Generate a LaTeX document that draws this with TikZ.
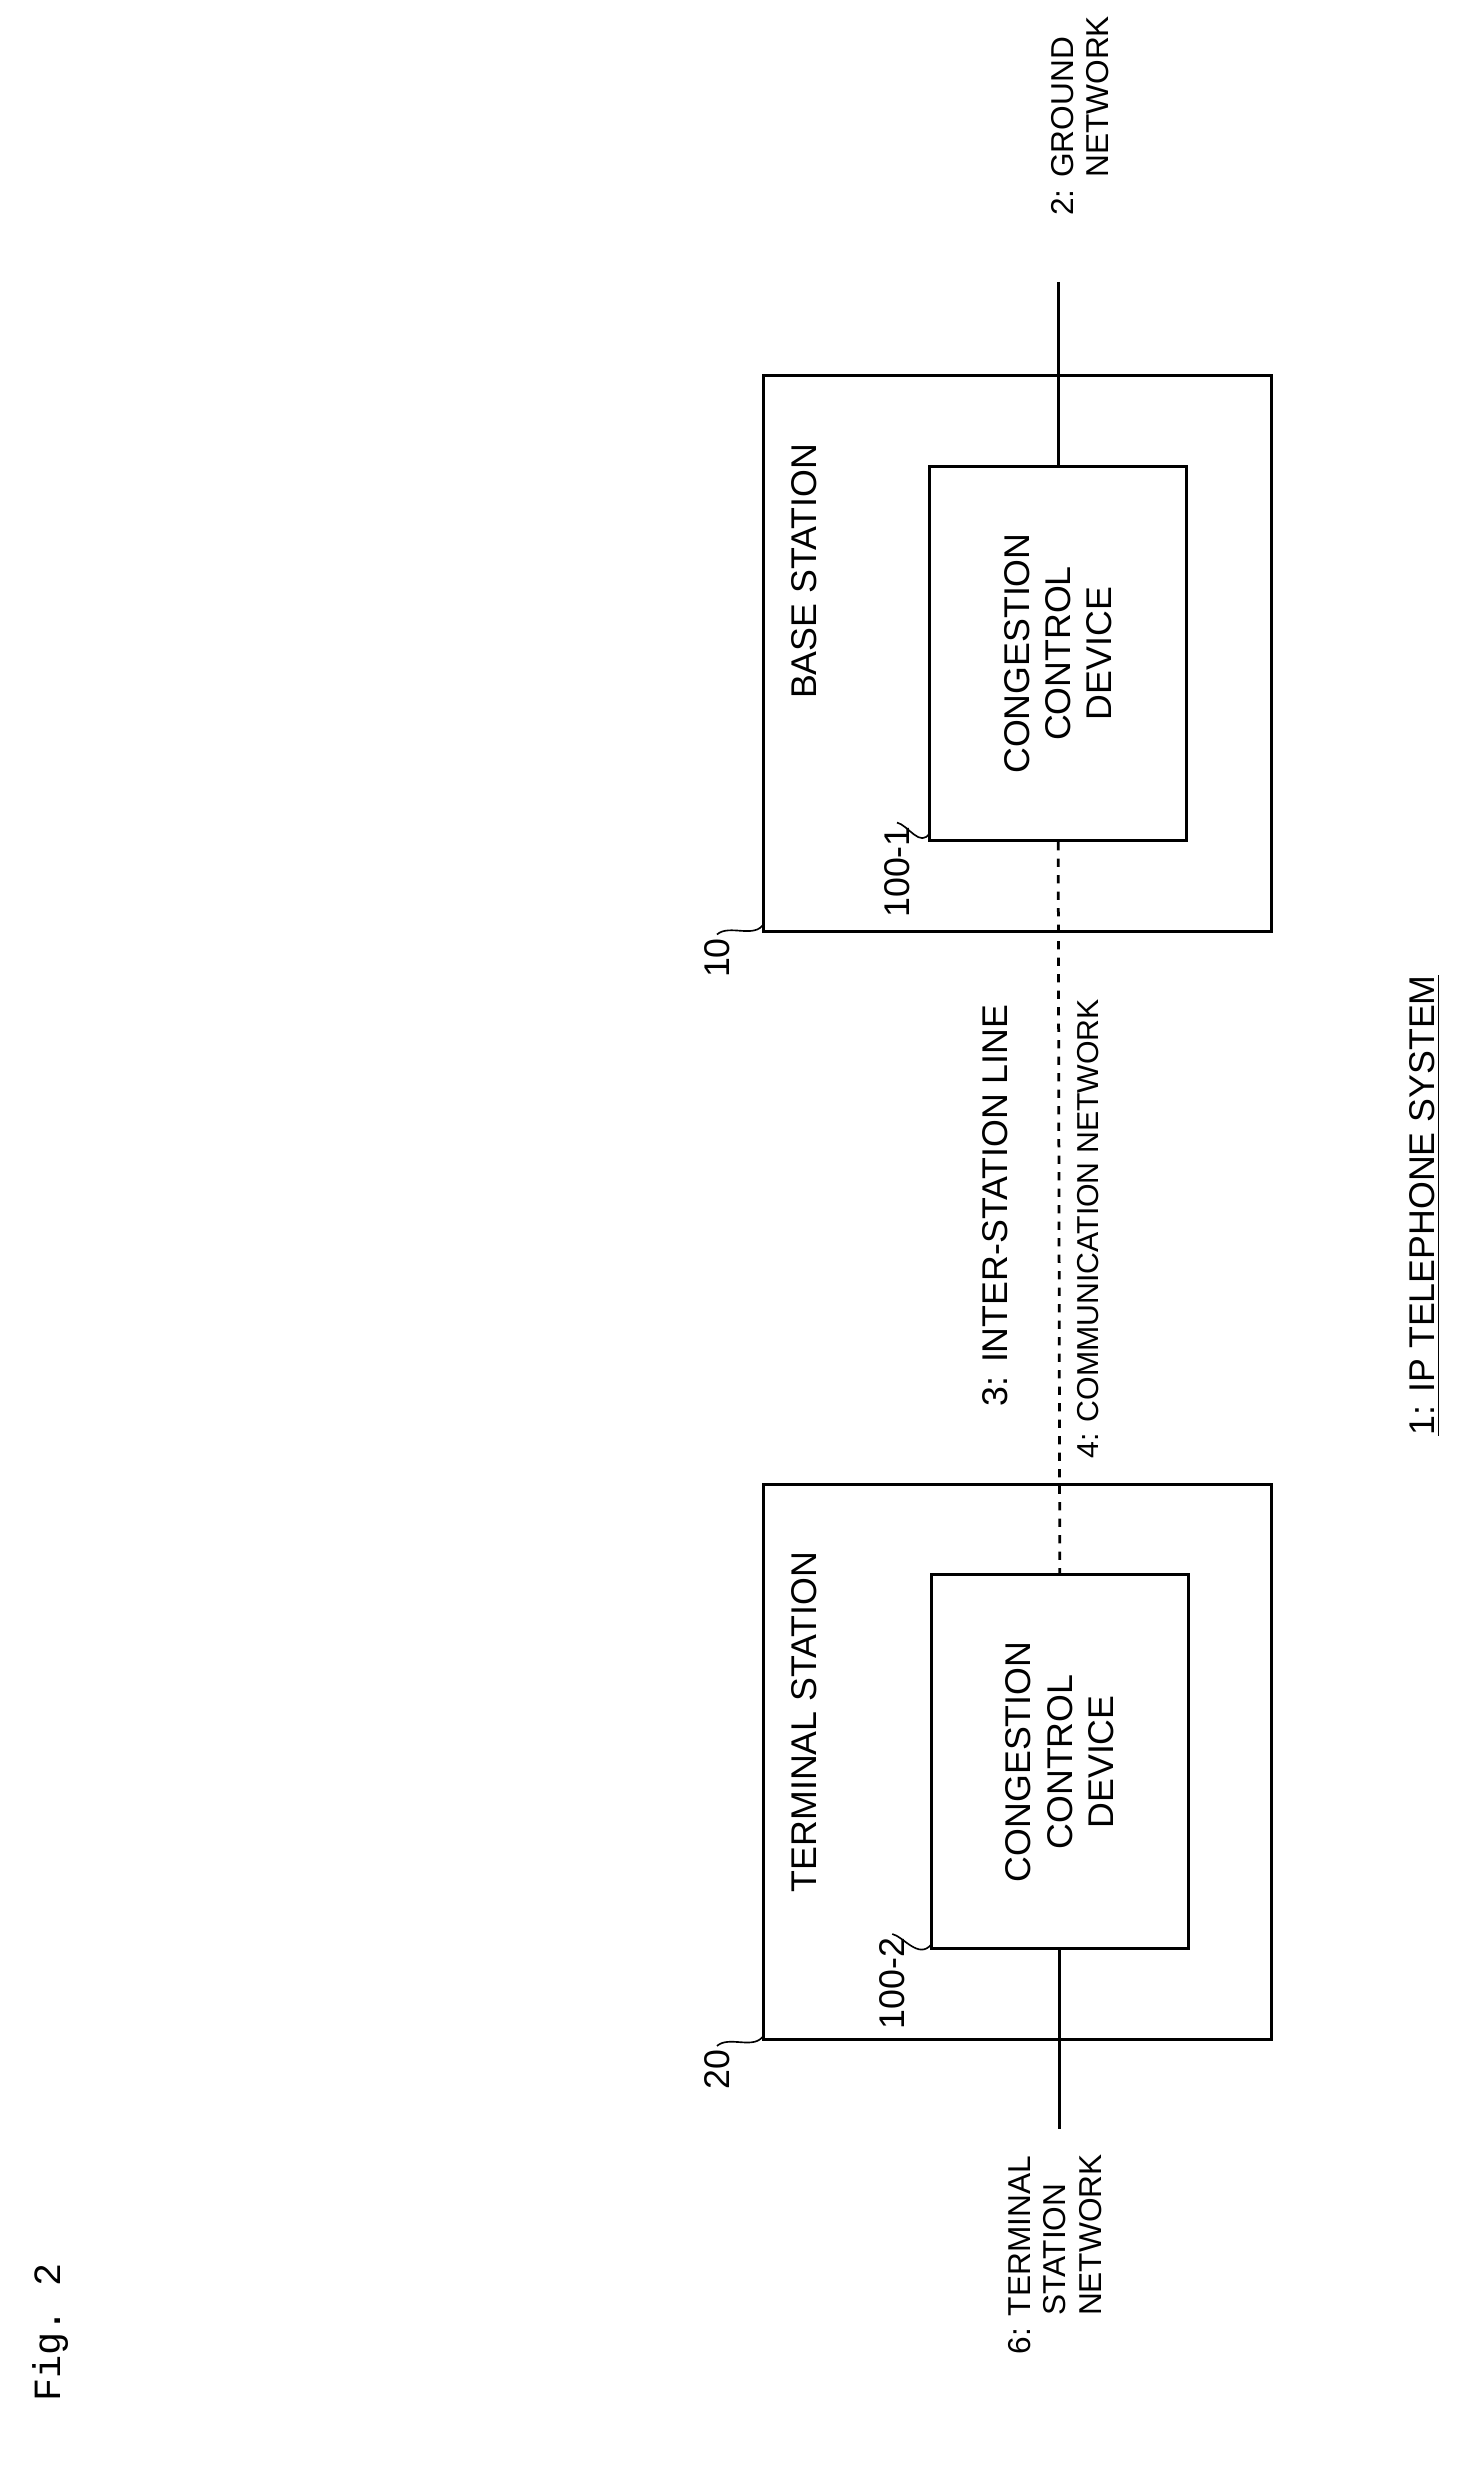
\documentclass[tikz,border=0pt]{standalone}
\usepackage{fontspec}
\setmainfont{Liberation Sans}
\setmonofont{Liberation Mono}
\begin{document}
\begin{tikzpicture}[x=0.02cm,y=-0.02cm]
	\tikzset{every node/.style={inner sep=0pt, font=\fontsize{13}{15}\selectfont},
		station/.style={draw, line width=1.1pt, minimum width=6.48cm, minimum height=7.1cm},
		ccbox/.style={draw, line width=1.1pt, minimum width=3.28cm, minimum height=4.78cm},
		vtext/.style={rotate=90, align=center},
		leader/.style={line width=0.6pt}}
	\useasboundingbox (0,0) rectangle (940,1590);
	% stations
	\node [station] (bs) at (650,417.5) {};
	\node [ccbox] (cc1) at (676,417.5) {};
	\node [vtext] at (676,417.5) {CONGESTION\\CONTROL\\DEVICE};
	\node [vtext] (bslbl) at (514,365) {BASE STATION};
	\node [station] (ts) at (650,1125.5) {};
	\node [ccbox] (cc2) at (677,1125.5) {};
	\node [vtext] at (677,1125.5) {CONGESTION\\CONTROL\\DEVICE};
	\node [vtext] (tslbl) at (514,1100) {TERMINAL STATION};
	% reference numerals
	\node [vtext] (n10) at (458,612) {10};
	\draw [leader] (n10.east) ++(0,-2) .. controls (466,590) and (482,600) .. (488,590);
	\node [vtext] (n20) at (458,1322) {20};
	\draw [leader] (n20.east) ++(0,-2) .. controls (466,1300) and (482,1310) .. (488,1300);
	\node [vtext] (n1001) at (573,557) {100-1};
	\draw [leader] (n1001.east) ++(0,-2) .. controls (580,527) and (588,542) .. (594,532);
	\node [vtext] (n1002) at (570,1267) {100-2};
	\draw [leader] (n1002.east) ++(0,-2) .. controls (577,1237) and (587,1252) .. (595,1242);
	% lines
	\coordinate (gnd) at (676,180);
	\coordinate (tsn) at (677,1360);
	\draw [line width=1pt] (gnd) -- (cc1.north);
	\draw [line width=1pt, dashed] (cc1.south) -- (cc2.north);
	\draw [line width=1pt] (cc2.south) -- (tsn);
	\node [vtext, align=left, font=\fontsize{11.5}{13}\selectfont] (gndlbl) at (690,74) {2: GROUND\\\phantom{2: }NETWORK};
	\node [vtext, align=left, font=\fontsize{11.5}{13}\selectfont] (tsnlbl) at (674,1440) {6: TERMINAL\\\phantom{6: }STATION\\\phantom{6: }NETWORK};
	\node [vtext] (isl) at (636,770) {3: INTER-STATION LINE};
	\node [vtext, font=\fontsize{11}{13}\selectfont] (cn) at (695,785) {4: COMMUNICATION NETWORK};
	% title
	\node [vtext] (sys) at (910,770) {\underline{1: IP TELEPHONE SYSTEM}};
	\node [vtext, font=\fontsize{14}{16}\ttfamily] (fig) at (32,1490) {Fig. 2};
\end{tikzpicture}
\end{document}
